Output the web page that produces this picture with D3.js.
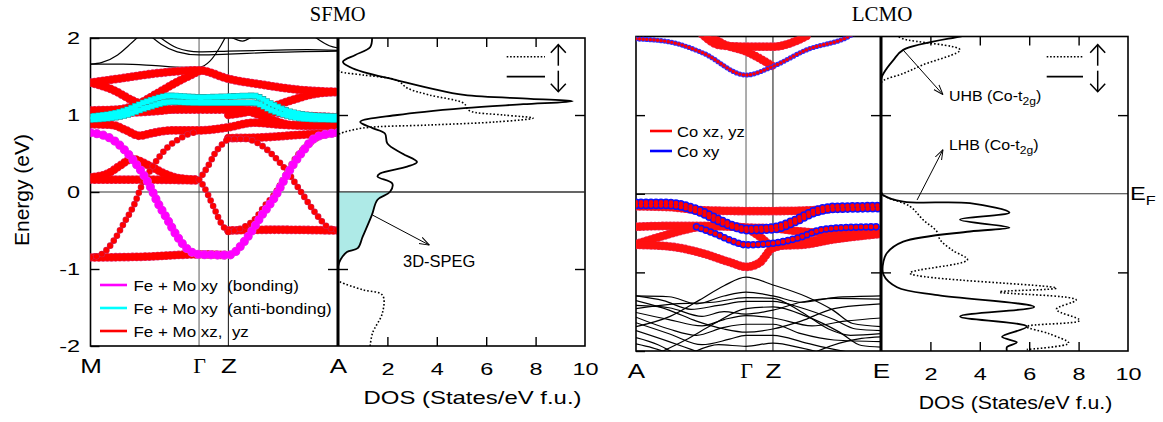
<!DOCTYPE html>
<html>
<head>
<meta charset="utf-8">
<script src="https://cdn.jsdelivr.net/npm/d3@7"></script>
<style>
body { margin: 0; background: #fff; }
text { white-space: pre; }
</style>
</head>
<body>
<script>
//Fonts
var sansFont = '"Liberation Sans", Arial, Helvetica, sans-serif';
var serifFont = '"Liberation Serif", "Times New Roman", serif';

//Axis labels and ticks
var sfmoKLabels = ['M', 'Γ', 'Z', 'A'];
var sfmoKPos = [0, 1, 1.27, 2.28];
var lcmoKLabels = ['A', 'Γ', 'Z', 'E'];
var lcmoKPos = [0, 1, 1.245, 2.227];
var energyTicks = [-2, -1, 0, 1, 2];
var dosTicks = [2, 4, 6, 8, 10];

//SFMO bands, each point is [k, energy]
var sfmoBlack = [
    [[0, 1.66], [0.3, 1.66], [0.6, 1.64], [0.85, 1.62], [1, 1.62], [1.1, 1.7], [1.2, 1.9], [1.25, 2.03]],
    [[0, 1.66], [0.1, 1.68], [0.25, 1.78], [0.35, 1.9], [0.45, 2.03]],
    [[0.55, 2.03], [0.65, 1.92], [0.8, 1.82], [1, 1.78], [1.27, 1.79], [1.6, 1.81], [2.28, 1.83]],
    [[0.62, 2.03], [0.8, 1.87], [1, 1.82], [1.27, 1.83], [1.6, 1.84], [2, 1.85], [2.28, 1.84]],
    [[1.27, 2.03], [1.4, 1.96], [1.5, 2.03]],
    [[2.05, 2.03], [2.2, 1.9], [2.28, 1.87]]
];
var sfmoRedThick = [
    [[0, -0.85], [0.5, -0.84], [1, -0.81], [1.27, -0.82]],
    [[1.27, -0.5], [1.7, -0.49], [2.28, -0.5]],
    [[0, 0.16], [0.5, 0.16], [1, 0.15]],
    [[0, 0.19], [0.16, 0.24], [0.28, 0.35], [0.38, 0.43], [0.53, 0.35], [0.68, 0.24], [0.81, 0.18], [1, 0.16]],
    [[1.27, 0.70], [1.6, 0.71], [1.9, 0.74], [2.28, 0.77]],
    [[0, 1.42], [0.3, 1.48], [0.6, 1.54], [1, 1.58], [1.27, 1.47], [1.6, 1.39], [1.9, 1.33], [2.28, 1.30]],
    [[0, 1.42], [0.2, 1.33], [0.4, 1.18], [0.55, 1.10], [0.8, 1.07], [1, 1.07], [1.27, 1.07], [1.6, 1.05], [1.9, 1.0], [2.28, 0.97]],
    [[0, 1.06], [0.25, 1.07], [0.45, 1.15], [0.6, 1.27], [0.8, 1.43], [1, 1.57]],
    [[0, 1.03], [0.3, 1.03], [0.6, 1.05], [1, 1.1], [1.27, 1.1], [1.45, 1.05], [1.65, 0.95], [1.85, 0.87], [2.05, 0.86], [2.28, 0.9]],
    [[1.27, 1.0], [1.45, 1.04], [1.65, 1.1], [1.85, 1.19], [2.05, 1.27], [2.28, 1.3]],
    [[0, 0.88], [0.2, 0.87], [0.33, 0.8], [0.45, 0.73], [0.55, 0.76], [0.75, 0.8], [1, 0.8], [1.27, 0.84], [1.5, 0.9], [1.8, 0.87], [2.28, 0.86]]
];
var sfmoRedThin = [
    [[0, -0.85], [0.1, -0.81], [0.22, -0.62], [0.31, -0.40], [0.41, -0.14], [0.465, 0.06], [0.55, 0.28], [0.62, 0.43], [0.71, 0.58], [0.82, 0.69], [0.92, 0.76], [1, 0.78]],
    [[1, 0.16], [1.04, 0.24], [1.1, 0.38], [1.145, 0.5], [1.2, 0.6], [1.27, 0.69]],
    [[1, 0.16], [1.04, 0.08], [1.08, -0.03], [1.145, -0.23], [1.205, -0.41], [1.27, -0.52]],
    [[1.27, 0.69], [1.42, 0.69], [1.57, 0.61], [1.7, 0.45], [1.82, 0.25], [1.94, 0.0], [2.07, -0.27], [2.19, -0.46], [2.28, -0.5]],
    [[1.27, -0.52], [1.42, -0.45], [1.51, -0.36], [1.6, -0.19], [1.7, -0.02], [1.79, 0.2], [1.88, 0.42], [2.0, 0.61], [2.1, 0.71], [2.28, 0.77]]
];
var sfmoCyan = [
    [[0, 0.98], [0.3, 1.05], [0.53, 1.18], [0.74, 1.25], [1, 1.23], [1.27, 1.24], [1.5, 1.25], [1.67, 1.14], [1.82, 1.05], [2, 1.0], [2.28, 0.98]],
    [[0, 0.94], [0.3, 0.99], [0.53, 1.10], [0.74, 1.17], [1, 1.16], [1.27, 1.16], [1.5, 1.16], [1.67, 1.06], [1.82, 0.99], [2, 0.95], [2.28, 0.94]]
];
var sfmoMagenta = [
    [[0, 0.77], [0.18, 0.70], [0.39, 0.42], [0.55, 0.07], [0.62, -0.14], [0.71, -0.36], [0.8, -0.58], [0.9, -0.75], [1, -0.81], [1.27, -0.82], [1.45, -0.58], [1.57, -0.32], [1.7, -0.06], [1.82, 0.25], [1.94, 0.5], [2.09, 0.72], [2.28, 0.77]]
];

//SFMO DOS, each point is [energy, DOS]
var sfmoDosDown = [[2.0, 1.38], [1.88, 1.3], [1.78, 0.7], [1.69, 0.2], [1.62, 0.5], [1.56, 1.0], [1.45, 2.4], [1.35, 3.7], [1.26, 5.1], [1.21, 7.8], [1.18, 9.5], [1.14, 7.5], [1.09, 5.1], [1.0, 2.4], [0.91, 0.9], [0.83, 1.4], [0.76, 1.9], [0.63, 2.0], [0.5, 2.6], [0.39, 3.2], [0.33, 2.8], [0.24, 1.7], [0.2, 1.6], [0.11, 2.2], [0, 2.1], [-0.1, 1.6], [-0.3, 1.37], [-0.58, 1.0], [-0.73, 0.8], [-0.78, 0.36], [-0.88, 0.1], [-0.97, 0], [-2, 0]];
var sfmoDosUp = [[1.58, 0], [1.56, 0.1], [1.52, 1.0], [1.45, 2.4], [1.35, 2.8], [1.26, 3.7], [1.15, 5.1], [1.06, 5.3], [1.0, 6.7], [0.96, 7.9], [0.91, 6.4], [0.87, 3.7], [0.83, 1.0], [0.76, 0.1], [0.74, 0], [-1.15, 0], [-1.17, 0.1], [-1.27, 1.0], [-1.34, 1.8], [-1.57, 1.8], [-1.83, 1.4], [-2.0, 1.3]];

//LCMO bands, each point is [k, energy]
var lcmoRedThick = [
    [[0.6, 2.03], [0.76, 1.89], [1, 1.87], [1.245, 1.87], [1.45, 1.94], [1.58, 2.03]],
    [[0.65, 2.03], [0.8, 1.9], [1, 1.81], [1.245, 1.62]],
    [[0, -0.16], [0.3, -0.17], [0.6, -0.21], [1, -0.22], [1.245, -0.22], [1.6, -0.21], [1.9, -0.18], [2.227, -0.17]],
    [[0, -0.42], [0.285, -0.41], [0.59, -0.41], [0.89, -0.42], [1.0, -0.44], [1.12, -0.54], [1.245, -0.66], [1.5, -0.65], [1.8, -0.58], [2.227, -0.51]],
    [[0, -0.64], [0.14, -0.58], [0.285, -0.52], [0.44, -0.46], [0.59, -0.42], [0.8, -0.41], [1.0, -0.43], [1.245, -0.44], [1.5, -0.48], [1.8, -0.5], [2.227, -0.5]],
    [[0, -0.65], [0.3, -0.67], [0.61, -0.76], [0.85, -0.87], [1.0, -0.93], [1.12, -0.88], [1.245, -0.69], [1.6, -0.6], [2.227, -0.5]]
];
var lcmoXy = [
    [[0, 1.97], [0.31, 1.93], [0.61, 1.79], [1, 1.51], [1.245, 1.62], [1.55, 1.83], [1.92, 1.99], [2.0, 2.05]],
    [[0, -0.11], [0.285, -0.11], [0.59, -0.21], [0.74, -0.31], [0.89, -0.40], [1.0, -0.44], [1.245, -0.42], [1.44, -0.33], [1.62, -0.21], [1.8, -0.16], [2.227, -0.15]],
    [[0, -0.15], [0.285, -0.15], [0.59, -0.25], [0.74, -0.35], [0.89, -0.43], [1.0, -0.47], [1.245, -0.46], [1.44, -0.37], [1.62, -0.25], [1.8, -0.2], [2.227, -0.19]],
    [[0.55, -0.42], [0.74, -0.52], [0.89, -0.61], [1.0, -0.65], [1.245, -0.63], [1.5, -0.55], [1.68, -0.46], [1.9, -0.43], [2.227, -0.42]]
];
var lcmoBlack = [
    [[0, -1.69], [0.31, -1.56], [0.58, -1.35], [0.8, -1.17], [1, -1.06], [1.245, -1.16], [1.55, -1.31], [1.79, -1.48], [1.97, -1.65], [2.227, -1.69]],
    [[0, -1.30], [0.3, -1.31], [0.55, -1.40], [0.8, -1.30], [1, -1.25], [1.245, -1.30], [1.5, -1.38], [1.8, -1.32], [2.227, -1.30]],
    [[0, -1.30], [0.25, -1.36], [0.5, -1.47], [0.75, -1.42], [1, -1.37], [1.245, -1.37], [1.5, -1.45], [1.8, -1.60], [2.0, -1.72], [2.227, -1.74]],
    [[0, -1.42], [0.3, -1.45], [0.6, -1.56], [0.8, -1.50], [1, -1.53], [1.245, -1.48], [1.5, -1.38], [1.8, -1.33], [2.227, -1.34]],
    [[0, -1.51], [0.3, -1.60], [0.6, -1.68], [0.8, -1.60], [1, -1.55], [1.245, -1.58], [1.6, -1.68], [1.9, -1.62], [2.227, -1.58]],
    [[0, -1.57], [0.3, -1.72], [0.55, -1.80], [0.8, -1.70], [1, -1.66], [1.245, -1.66], [1.5, -1.78], [1.8, -1.86], [2.227, -1.88]],
    [[0, -1.64], [0.3, -1.78], [0.6, -1.92], [0.85, -1.85], [1, -1.80], [1.245, -1.80], [1.55, -1.90], [1.8, -1.98], [2.0, -2.03]],
    [[0, -1.74], [0.3, -1.88], [0.5, -1.98], [0.6, -2.03]],
    [[0, -1.83], [0.2, -1.92], [0.35, -2.03]],
    [[0.5, -2.03], [0.75, -1.92], [1, -1.94], [1.245, -1.90], [1.5, -1.96], [1.7, -2.03]],
    [[0, -1.91], [0.15, -1.96], [0.3, -2.03]],
    [[1.6, -2.03], [1.85, -1.9], [2.05, -1.84], [2.227, -1.82]],
    [[0, -1.36], [0.3, -1.48], [0.55, -1.62], [0.8, -1.72], [1, -1.76], [1.245, -1.72], [1.5, -1.62], [1.8, -1.46], [2.227, -1.40]],
    [[0.2, -2.03], [0.45, -1.86], [0.7, -1.66], [1, -1.46], [1.245, -1.44], [1.55, -1.56], [1.85, -1.76], [2.05, -1.93], [2.227, -1.95]],
    [[0, -1.46], [0.35, -1.40], [0.7, -1.38], [1, -1.32], [1.245, -1.33], [1.5, -1.5], [1.75, -1.72], [1.95, -1.8], [2.227, -1.78]]
];

//LCMO DOS, each point is [energy, DOS]
var lcmoDosDown = [[2.02, 3.5], [2.0, 3.2], [1.83, 0.9], [1.7, 0.5], [1.53, 0.1], [1.45, 0], [0.02, 0], [-0.02, 0.1], [-0.1, 0.9], [-0.12, 3.6], [-0.24, 5.2], [-0.33, 3.2], [-0.43, 5.2], [-0.48, 3.6], [-0.61, 0.9], [-0.75, 0.25], [-0.86, 0.1], [-1.03, 0.1], [-1.19, 0.65], [-1.29, 2.3], [-1.44, 6.2], [-1.56, 3.2], [-1.69, 5.9], [-1.82, 4.9], [-1.89, 5.5], [-1.95, 5.1], [-2.0, 5.1]];
var lcmoDosUp = [[2.02, 0.6], [1.97, 0.9], [1.83, 3.2], [1.64, 1.7], [1.53, 0.9], [1.44, 0.1], [1.4, 0], [0.04, 0], [-0.02, 0.1], [-0.16, 1.17], [-0.33, 1.7], [-0.48, 2.26], [-0.59, 2.4], [-0.72, 2.9], [-0.84, 3.5], [-1.01, 1.17], [-1.2, 7.1], [-1.25, 4.8], [-1.35, 7.9], [-1.47, 7.1], [-1.61, 8.05], [-1.69, 5.9], [-1.78, 6.8], [-1.9, 7.6], [-1.98, 5.9]];

//Legend texts
var sfmoLegendLabels = ['Fe + Mo xy  (bonding)', 'Fe + Mo xy  (anti-bonding)', 'Fe + Mo xz,  yz'];
var sfmoLegendColors = ['#ff00ff', '#00ffff', '#ff0000'];
var lcmoLegendLabels = ['Co xz, yz', 'Co xy'];
var lcmoLegendColors = ['#ff0000', '#0000ff'];

//Create the SVG Element
var svg = d3.select('body').append('svg')
    .attr('width', 1163)
    .attr('height', 422)
    .style('background', '#fff');

var defs = svg.append('defs');
defs.append('marker')
    .attr('id', 'head')
    .attr('viewBox', '0 0 10 10')
    .attr('refX', 10).attr('refY', 5)
    .attr('markerWidth', 10).attr('markerHeight', 10)
    .attr('markerUnits', 'userSpaceOnUse')
    .attr('orient', 'auto')
    .append('path')
    .attr('d', 'M0,1.5 L10,5 L0,8.5')
    .attr('fill', 'none').attr('stroke', '#000').attr('stroke-width', 1);

//Scales
var kS = d3.scaleLinear().domain([0, 2.28]).range([90.5, 338]);
var eS = d3.scaleLinear().domain([-2, 2]).range([346, 38]);
var dS = d3.scaleLinear().domain([0, 10]).range([338, 585]);
var kL = d3.scaleLinear().domain([0, 2.227]).range([636, 881]);
var eL = d3.scaleLinear().domain([-2, 2]).range([351, 36.5]);
var dL = d3.scaleLinear().domain([0, 10]).range([881, 1128]);

function addText(g, x, y, str, size, sx, anchor, family) {
    return g.append('text')
        .attr('transform', `translate(${x},${y}) scale(${sx},1)`)
        .attr('text-anchor', anchor || 'start')
        .style('font-family', family || sansFont)
        .style('font-size', size + 'px')
        .text(str);
}

function drawBands(g, bands, line, color, size, gap, cap) {
    g.selectAll(null).data(bands).enter().append('path')
        .attr('d', line)
        .attr('fill', 'none')
        .attr('stroke', color)
        .attr('stroke-width', size)
        .attr('stroke-linecap', cap || 'round')
        .attr('stroke-dasharray', gap ? '0 ' + gap : null);
}

//dots with a thin darker rim, drawn in two passes
function drawBeads(g, bands, line, rim, fill, size, gap, cap) {
    drawBands(g, bands, line, rim, size + 1.2, gap, cap);
    drawBands(g, bands, line, fill, size, gap, cap);
}

//Frames, ticks and labels shared by both panels
function drawPanel(id, k, e, d, kPos, kLabels, showY, dosSx) {
    var g = svg.append('g');
    var bx0 = k.range()[0], bx1 = k.range()[1];
    var dx1 = d.range()[1];
    var yTop = e.range()[1], yBot = e.range()[0];

    //high symmetry lines
    g.append('line').attr('x1', k(kPos[1])).attr('x2', k(kPos[1]))
        .attr('y1', yTop).attr('y2', yBot).attr('stroke', '#777').attr('stroke-width', 1.2);
    g.append('line').attr('x1', k(kPos[2])).attr('x2', k(kPos[2]))
        .attr('y1', yTop).attr('y2', yBot).attr('stroke', '#111').attr('stroke-width', 1);

    //Fermi level
    g.append('line').attr('x1', bx0).attr('x2', dx1)
        .attr('y1', e(0)).attr('y2', e(0)).attr('stroke', '#333').attr('stroke-width', 1.2);

    var strip = sel => sel.select('.domain').remove();

    //energy axis
    var yAx = g.append('g').attr('transform', `translate(${bx0},0)`)
        .call(d3.axisLeft(e).tickValues(energyTicks).tickSize(-9).tickPadding(7.6)
            .tickFormat(showY ? (v => String(v)) : ''))
        .call(strip);
    yAx.selectAll('text').style('font-family', sansFont).style('font-size', '17px')
        .attr('fill', '#000').attr('transform', 'scale(1.38,1)');

    //ticks on the separator and on the right edge
    g.append('g').attr('transform', `translate(${bx1},0)`)
        .call(d3.axisLeft(e).tickValues([-1, 1]).tickSize(10).tickFormat('')).call(strip);
    g.append('g').attr('transform', `translate(${bx1},0)`)
        .call(d3.axisRight(e).tickValues([-1, 1]).tickSize(10).tickFormat('')).call(strip);
    g.append('g').attr('transform', `translate(${dx1},0)`)
        .call(d3.axisRight(e).tickValues([-1, 1]).tickSize(-10).tickFormat('')).call(strip);

    //DOS axes
    g.append('g').attr('transform', `translate(0,${yTop})`)
        .call(d3.axisTop(d).tickValues(dosTicks.slice(0, 4)).tickSize(-9).tickFormat('')).call(strip);
    var dAx = g.append('g').attr('transform', `translate(0,${yBot})`)
        .call(d3.axisBottom(d).tickValues(dosTicks).tickSize(-9).tickPadding(17)).call(strip);
    dAx.selectAll('line').filter(v => v === 10).remove();
    dAx.selectAll('text').style('font-family', sansFont).style('font-size', '17px')
        .attr('fill', '#000').attr('transform', 'scale(1.38,1)');

    //k path labels
    var kAx = g.append('g').attr('transform', `translate(0,${yBot})`)
        .call(d3.axisBottom(k).tickValues(kPos).tickSize(0).tickPadding(13)
            .tickFormat((v, i) => kLabels[i])).call(strip);
    kAx.selectAll('text')
        .style('font-family', (v, i) => kLabels[i] === 'Γ' ? serifFont : sansFont)
        .style('font-size', '20px').attr('fill', '#000')
        .attr('transform', (v, i) => kLabels[i] === 'Γ' ? 'scale(1.1,1)' : 'scale(1.3,1)');

    g.selectAll('.tick line').attr('stroke', '#000').attr('stroke-width', 1.4);

    //frames
    g.append('rect').attr('x', bx0).attr('y', yTop).attr('width', dx1 - bx0).attr('height', yBot - yTop)
        .attr('fill', 'none').attr('stroke', '#000').attr('stroke-width', 1.6);
    g.append('line').attr('x1', bx1).attr('x2', bx1).attr('y1', yTop).attr('y2', yBot)
        .attr('stroke', '#000').attr('stroke-width', 2.6);

    //DOS title
    addText(g, (d.range()[0] + dx1) / 2 + 11, yBot + 58, 'DOS (States/eV f.u.)', 18, dosSx, 'middle');

    //clip for the band plot
    defs.append('clipPath').attr('id', id + '-clip').append('rect')
        .attr('x', bx0).attr('y', yTop).attr('width', bx1 - bx0).attr('height', yBot - yTop);
    defs.append('clipPath').attr('id', id + '-dclip').append('rect')
        .attr('x', bx1).attr('y', yTop).attr('width', dx1 - bx1).attr('height', yBot - yTop);
}

function spinLegend(x0, x1, ax, yDot, ySolid) {
    var g = svg.append('g').attr('stroke', '#000').attr('fill', 'none');
    g.append('line').attr('x1', x0).attr('x2', x1).attr('y1', yDot).attr('y2', yDot)
        .attr('stroke-width', 1.6).attr('stroke-dasharray', '1.6 1.8');
    g.append('line').attr('x1', x0).attr('x2', x1).attr('y1', ySolid).attr('y2', ySolid)
        .attr('stroke-width', 1.8);
    g.append('line').attr('x1', ax).attr('x2', ax).attr('y1', yDot + 9).attr('y2', yDot - 12).attr('stroke-width', 1.5);
    g.append('polyline').attr('points', `${ax - 7.5},${yDot - 4} ${ax},${yDot - 12} ${ax + 7.5},${yDot - 4}`).attr('stroke-width', 1.5);
    g.append('line').attr('x1', ax).attr('x2', ax).attr('y1', ySolid - 6).attr('y2', ySolid + 15).attr('stroke-width', 1.5);
    g.append('polyline').attr('points', `${ax - 7.5},${ySolid + 7} ${ax},${ySolid + 15} ${ax + 7.5},${ySolid + 7}`).attr('stroke-width', 1.5);
}

// ================= SFMO =================
var sLine = d3.line().x(p => kS(p[0])).y(p => eS(p[1])).curve(d3.curveMonotoneX);
drawPanel('sfmo', kS, eS, dS, sfmoKPos, sfmoKLabels, true, 1.33);

var sBands = svg.append('g').attr('clip-path', 'url(#sfmo-clip)');
drawBands(sBands, sfmoBlack, sLine, '#000', 1.2);
drawBands(sBands, sfmoRedThick.concat(sfmoRedThin, sfmoMagenta), sLine, '#000', 1);
drawBeads(sBands, sfmoRedThick, sLine, '#e0306a', '#ff0000', 7.6, 4.2);
drawBeads(sBands, sfmoCyan, sLine, '#2a9a9a', '#00ffff', 5.2, 4.2, 'square');
drawBeads(sBands, sfmoRedThin, sLine, '#d02050', '#ff0000', 5.4, 6);
drawBeads(sBands, sfmoMagenta, sLine, '#e040e0', '#ff00ff', 8, 6.5);

//SFMO DOS
var sDos = svg.append('g').attr('clip-path', 'url(#sfmo-dclip)');
var dosCurve = d3.curveCatmullRom.alpha(0.5);
var sDosLine = d3.line().x(p => dS(p[1])).y(p => eS(p[0])).curve(dosCurve);
var sDosArea = d3.area().x0(dS(0)).x1(p => dS(p[1])).y(p => eS(p[0])).curve(dosCurve);
sDos.append('path').datum(sfmoDosDown.filter(p => p[0] <= 0))
    .attr('d', sDosArea).attr('fill', '#aeeae7');
sDos.append('line').attr('x1', dS(0)).attr('x2', dS(10)).attr('y1', eS(0)).attr('y2', eS(0))
    .attr('stroke', '#333').attr('stroke-width', 1.2);
sDos.append('path').datum(sfmoDosUp).attr('d', sDosLine)
    .attr('fill', 'none').attr('stroke', '#000').attr('stroke-width', 1.6).attr('stroke-dasharray', '1.6 2');
sDos.append('path').datum(sfmoDosDown).attr('d', sDosLine)
    .attr('fill', 'none').attr('stroke', '#000').attr('stroke-width', 1.8);
svg.append('line').attr('x1', dS(0)).attr('x2', dS(0)).attr('y1', eS(2)).attr('y2', eS(-2))
    .attr('stroke', '#000').attr('stroke-width', 2.6);

//3D-SPEG annotation
svg.append('line').attr('x1', dS(1.4)).attr('y1', eS(-0.3)).attr('x2', dS(3.7)).attr('y2', eS(-0.69))
    .attr('stroke', '#000').attr('stroke-width', 1).attr('marker-end', 'url(#head)');
addText(svg, dS(2.63), eS(-0.975), '3D-SPEG', 16.5, 1, 'start');

spinLegend(506.7, 545, 558.3, 56.7, 76.7);

//SFMO legend
var sLeg = svg.append('g');
sfmoLegendLabels.forEach(function(lab, i) {
    var y = 285 + i * 23;
    sLeg.append('line').attr('x1', 100).attr('x2', 127).attr('y1', y).attr('y2', y)
        .attr('stroke', sfmoLegendColors[i]).attr('stroke-width', 2.6);
    addText(sLeg, 133.5, y + 6, lab, 15, 1.13, 'start');
});

addText(svg, (kS.range()[0] + dS.range()[1]) / 2, 21, 'SFMO', 20.5, 1, 'middle', serifFont);
svg.append('text')
    .attr('transform', 'translate(28.5,190) rotate(-90)')
    .attr('text-anchor', 'middle')
    .style('font-family', sansFont).style('font-size', '21px')
    .text('Energy (eV)');

// ================= LCMO =================
var lLine = d3.line().x(p => kL(p[0])).y(p => eL(p[1])).curve(d3.curveMonotoneX);
drawPanel('lcmo', kL, eL, dL, lcmoKPos, lcmoKLabels, false, 1.18);

var lBands = svg.append('g').attr('clip-path', 'url(#lcmo-clip)');
drawBands(lBands, lcmoBlack, lLine, '#000', 1.2);
drawBeads(lBands, lcmoRedThick, lLine, '#e8305a', '#ff1010', 7.6, 3.8);
drawBands(lBands, lcmoXy.slice(0, 1), lLine, '#3030ff', 5.2, 3.6);
drawBands(lBands, lcmoXy.slice(0, 1), lLine, '#ff0000', 3.4, 3.6);
drawBands(lBands, lcmoXy.slice(1), lLine, '#1010ff', 7.6, 5);
drawBands(lBands, lcmoXy.slice(1), lLine, '#ff0000', 4.6, 5);

//LCMO DOS
var lDos = svg.append('g').attr('clip-path', 'url(#lcmo-dclip)');
var lDosLine = d3.line().x(p => dL(p[1])).y(p => eL(p[0])).curve(dosCurve);
lDos.append('path').datum(lcmoDosUp).attr('d', lDosLine)
    .attr('fill', 'none').attr('stroke', '#000').attr('stroke-width', 1.6).attr('stroke-dasharray', '1.6 2');
lDos.append('path').datum(lcmoDosDown).attr('d', lDosLine)
    .attr('fill', 'none').attr('stroke', '#000').attr('stroke-width', 1.8);
svg.append('line').attr('x1', dL(0)).attr('x2', dL(0)).attr('y1', eL(2)).attr('y2', eL(-2))
    .attr('stroke', '#000').attr('stroke-width', 2.6);

//Hubbard band annotations
svg.append('line').attr('x1', dL(0.89)).attr('y1', eL(1.83)).attr('x2', dL(2.51)).attr('y2', eL(1.26))
    .attr('stroke', '#000').attr('stroke-width', 1).attr('marker-end', 'url(#head)');
svg.append('line').attr('x1', dL(1.46)).attr('y1', eL(-0.08)).attr('x2', dL(2.51)).attr('y2', eL(0.56))
    .attr('stroke', '#000').attr('stroke-width', 1).attr('marker-end', 'url(#head)');
[['UHB (Co-t', 1.175], ['LHB (Co-t', 0.56]].forEach(function(a) {
    var t = addText(svg, dL(2.75), eL(a[1]), '', 14.5, 1.1, 'start');
    t.append('tspan').text(a[0]);
    t.append('tspan').attr('dy', 4).style('font-size', '11px').text('2g');
    t.append('tspan').attr('dy', -4).text(')');
});

spinLegend(1046.7, 1083, 1097.7, 56.7, 76.7);

//LCMO legend
var lLeg = svg.append('g');
lcmoLegendLabels.forEach(function(lab, i) {
    var y = 131 + i * 20;
    lLeg.append('line').attr('x1', 650).attr('x2', 672).attr('y1', y).attr('y2', y)
        .attr('stroke', lcmoLegendColors[i]).attr('stroke-width', 2.6);
    addText(lLeg, 677, y + 5.5, lab, 15, 1.1, 'start');
});

//Fermi level label
var ef = addText(svg, 1130, eL(0) + 6.5, '', 19, 1.25, 'start');
ef.append('tspan').text('E');
ef.append('tspan').attr('dy', 5).style('font-size', '13px').text('F');

addText(svg, (kL.range()[0] + dL.range()[1]) / 2, 21, 'LCMO', 21, 1, 'middle', serifFont);
</script>
</body>
</html>
